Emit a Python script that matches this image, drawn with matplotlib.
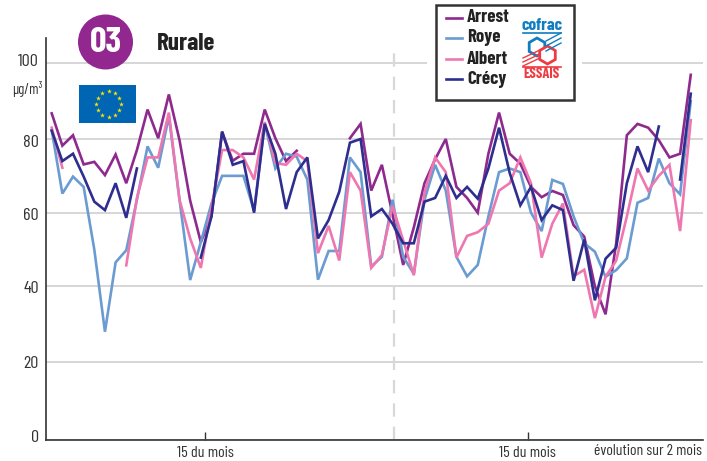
import numpy as np
import matplotlib
matplotlib.use('Agg')
import matplotlib.pyplot as plt
from matplotlib.patches import Circle, Rectangle, RegularPolygon
from matplotlib.transforms import ScaledTranslation

plt.rcParams['font.family'] = ['Barlow Condensed', 'Liberation Sans', 'DejaVu Sans']

n = np.nan
arrest = [86.8, 78.2, 81, 73.1, 73.8, 70.2, 75.8, 68, 77, 87.8, 80.2, 91.8, 79.7, 63.3, 52, 59, 81.8, 74.1, 76, 76, 87.8,
          80.2, 74, 76.8, n, n, n, n, 80.2, 84, 66, 73, 59.5, 45.8, 56, 68, 74.5, 80, 67, 64, 60, 76, 87, 76, 73.3, 67,
          64.2, 65.9, 64.8, 56.6, 53.5, 40, 32.6, 51.7, 81, 84, 83, 79.7, 75, 76, 97]
roye = [82.4, 65.2, 69.8, 67, 50, 28, 46.5, 49.8, 63.5, 78, 72.2, 86, 63.5, 41.7, 52, 62.5, 70, 70, 70, 60.5, 84,
        72, 76, 75.2, 69, 41.8, 49.6, 49.6, 75, 71, 45.4, 48, 63.5, 48, 43.4, 63.5, 73, 66, 48, 42.7, 45.8, 59, 71, 72,
        71, 60, 55, 68.9, 67.8, 59, 51.7, 49.4, 42.6, 44.4, 47.6, 62.7, 64, 74.7, 68, 65, 90]
albert = [83, 72.2, n, n, n, n, n, 45.7, 64, 75, 75, 87, 63.5, 53, 45, 61.5, 77, 77, 75, 69, 84.5,
          73.5, 73, 76, 74, 49, 56.4, 47, 71, 66, 45, 48.5, 61.8, 52.5, 43, 65.5, 75, 71, 47.8, 53.7, 54.7, 57, 66, 68,
          75, 68, 47.8, 57, 62.5, 42.7, 44.5, 31.6, 42.6, 47, 59, 72, 66, 70, 73, 55, 85]
crecy = [82.2, 74, 76, 69.8, 63, 60.7, 68, 58.6, 72, n, n, n, n, n, 47.8, 59, 82, 73, 74, 60, 84,
         76, 61, 71, 75, 53, 58, 65.7, 79, 80, 59, 61, 57, 51.7, 51.7, 63, 64, 70, 64, 67, 63.8, 72, 83, 70.8,
         62, 67, 58, 62, 60.7, 41.5, 52.7, 36.3, 47.5, 50.5, 68, 78, 71, 83.3, n, 69, 92]

names = ['Arrest', 'Roye', 'Albert', 'Crécy']
series = [arrest, roye, albert, crecy]
colors = ['#8e2a8e', '#6a9bd1', '#ef77b0', '#2e2e8f']
yticks = [0, 20, 40, 60, 80, 100]
xtick_pos = [14.4, 44.7]
xtick_labels = ['15 du mois', '15 du mois']

# the grid of the original is not quite evenly spaced
grid_vals = [0, 20, 40, 60, 80, 100, 107]
grid_px = [0, 78, 153.7, 227.3, 301, 376.5, 402]

def forward(v):
    return np.interp(v, grid_vals, grid_px)

def inverse(p):
    return np.interp(p, grid_px, grid_vals)

W, H = 707, 461
fig = plt.figure(figsize=(W / 100, H / 100), dpi=100)
ax = fig.add_axes([46 / W, (H - 440) / H, (703 - 46) / W, 402 / H])
ax.set_yscale('function', functions=(forward, inverse))
ax.set_xlim(-0.535, 61.15)
ax.set_ylim(0, 107)

days = np.arange(len(arrest))
for vals, name, col in zip(series, names, colors):
    ax.plot(days, vals, color=col, lw=1.9, label=name, zorder=3, solid_joinstyle='miter')

ax.set_yticks(yticks)
ax.set_yticklabels([str(v) for v in yticks], fontsize=13, color='#333333')
ax.set_xticks(xtick_pos)
ax.set_xticklabels(xtick_labels, fontsize=11.5, color='#333333')
ax.tick_params(axis='y', length=0, pad=5)
ax.tick_params(axis='x', direction='in', length=6, width=1, pad=4, color='#333333')
# labels sit a little off their gridlines in the original
for lab, dy in zip(ax.get_yticklabels(), [4, 0, -1, -1, -2, 4]):
    lab.set_transform(lab.get_transform() + ScaledTranslation(0, dy / 100, fig.dpi_scale_trans))
ax.grid(axis='y', color='#cfcfcf', lw=1.2, zorder=1)
ax.axvline(32.1, ymax=0.98, color='#d8d8d8', lw=1.6, dashes=(6, 4.5), zorder=2)
ax.set_axisbelow(True)
for s in ['top', 'right']:
    ax.spines[s].set_visible(False)
for s in ['left', 'bottom']:
    ax.spines[s].set_color('#333333')
    ax.spines[s].set_linewidth(1.2)

# overlay in pixels for the decorations
over = fig.add_axes([0, 0, 1, 1], zorder=5)
over.set_xlim(0, W)
over.set_ylim(H, 0)
over.axis('off')

over.text(27, 89, 'µg/m³', fontsize=10.5, color='#333333', ha='center', va='center')
over.text(648, 451, 'évolution sur 2 mois', fontsize=11.3, color='#333333', ha='center', va='center')

over.add_patch(Circle((105.5, 42), 27.5, color='#92278f', lw=0))
over.text(105.5, 42.5, '03', color='white', fontsize=26, fontweight='bold', ha='center', va='center')
over.text(157, 44, 'Rurale', color='#222222', fontsize=18, fontweight='bold', ha='left', va='center')

# flag
over.add_patch(Rectangle((79, 85), 57, 38, color='#0066b3', lw=0))
ang = np.arange(12) * np.pi / 6
over.scatter(108.5 + 12.7 * np.sin(ang), 104 - 12.7 * np.cos(ang), marker='*', s=13, color='#ffe600', lw=0)

# legend box
over.add_patch(Rectangle((427, 0), 155, 104, color='white', lw=0))
over.add_patch(Rectangle((435.5, 5), 138.5, 95, fill=False, ec='#333333', lw=1.8))
legend_y = [18, 38, 59, 79]
text_y = [18, 38, 60, 79]
for name, col, ly, ty in zip(names, colors, legend_y, text_y):
    over.plot([446, 462], [ly, ly], color=col, lw=1.9)
    over.text(467, ty, name, fontsize=13.5, fontweight='bold', color='#222222', ha='left', va='center')

# cofrac logo
blue, red = '#0f7dc2', '#ee3b42'
over.text(542, 25, 'cofrac', color=blue, fontsize=12.5, fontweight='bold', ha='center', va='center')
over.plot([523, 561], [33, 33], color=blue, lw=1.2)
for y0 in [44, 49, 54]:
    over.plot([546, 561], [y0 - 3, y0 - 11], color=blue, lw=1)
for y0 in [58, 62, 66]:
    over.plot([523, 540], [y0, y0 - 8], color=red, lw=1)
over.add_patch(RegularPolygon((537, 47), 6, radius=9, fill=False, ec=blue, lw=2))
over.add_patch(RegularPolygon((547.5, 55), 6, radius=9, fc='white', ec=red, lw=2))
over.plot([523, 561], [67, 67], color=red, lw=1.2)
over.text(542, 74, 'ESSAIS', color=red, fontsize=10.5, fontweight='bold', ha='center', va='center')

fig.savefig('out.png', dpi=100)
